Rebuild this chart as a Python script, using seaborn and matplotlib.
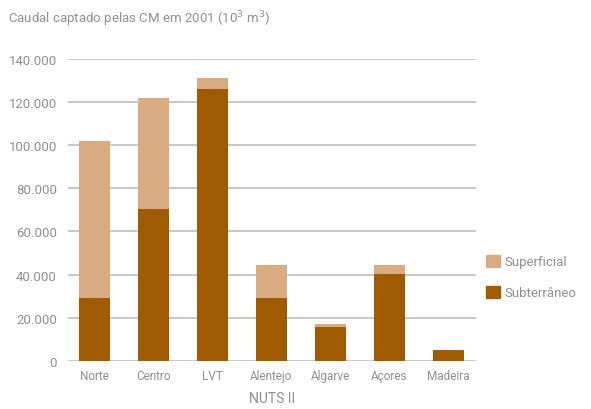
import numpy as np
import matplotlib
matplotlib.use("Agg")
import matplotlib.pyplot as plt
import seaborn as sns
import pandas as pd
from matplotlib.ticker import FuncFormatter
from matplotlib.patches import Patch

regions = ["Norte", "Centro", "LVT", "Alentejo", "Algarve", "Açores", "Madeira"]
subterraneo = [29200, 70400, 126000, 29200, 15700, 40300, 5100]
superficial = [72700, 51400, 5100, 15300, 1400, 4200, 0]

df = pd.DataFrame({"regiao": regions, "sub": subterraneo, "sup": superficial})
df["total"] = df["sub"] + df["sup"]

light = "#D9AB80"
dark = "#A05A00"
grey = "#8f8f8f"

sns.set_style("white")
plt.rcParams["font.family"] = ["Roboto", "DejaVu Sans"]

fig = plt.figure(figsize=(5.91, 4.10), dpi=100)
ax = fig.add_axes([68 / 591, 1 - 362 / 410, (476 - 68) / 591, (362 - 59.7) / 410])

sns.barplot(ax=ax, data=df, x="regiao", y="total", color=light, width=0.525,
            saturation=1, linewidth=0, zorder=3)
sns.barplot(ax=ax, data=df, x="regiao", y="sub", color=dark, width=0.525,
            saturation=1, linewidth=0, zorder=3)

ax.set_ylim(0, 140000)
ax.set_xlim(-0.45, 6.47)
ax.set_yticks(np.arange(0, 140001, 20000))
ax.yaxis.set_major_formatter(FuncFormatter(lambda v, p: f"{int(v):,}".replace(",", ".")))
ax.yaxis.grid(True, color="#c4c4c4", linewidth=1.3, zorder=0)
ax.set_axisbelow(True)
for s in ax.spines.values():
    s.set_visible(False)
ax.tick_params(axis="both", length=0, colors=grey, labelsize=9.5)
ax.tick_params(axis="x", pad=6, labelsize=8.5)
ax.tick_params(axis="y", pad=8)
ax.set_ylabel("")
ax.set_xlabel("NUTS II", color=grey, fontsize=10, labelpad=6)

handles = [Patch(color=light, label="Superficial"), Patch(color=dark, label="Subterrâneo")]
fig.legend(handles=handles, loc="center left", bbox_to_anchor=(474 / 591, 1 - 278 / 410),
           frameon=False, fontsize=9.5, labelcolor=grey, handlelength=1.1,
           handleheight=1.1, labelspacing=1.3, handletextpad=0.3)

fig.text(8 / 591, 1 - 19 / 410, "Caudal captado pelas CM em 2001 (10$^3$ m$^3$)",
         color=grey, fontsize=9.5, va="center")

fig.savefig("out.png", dpi=100)
